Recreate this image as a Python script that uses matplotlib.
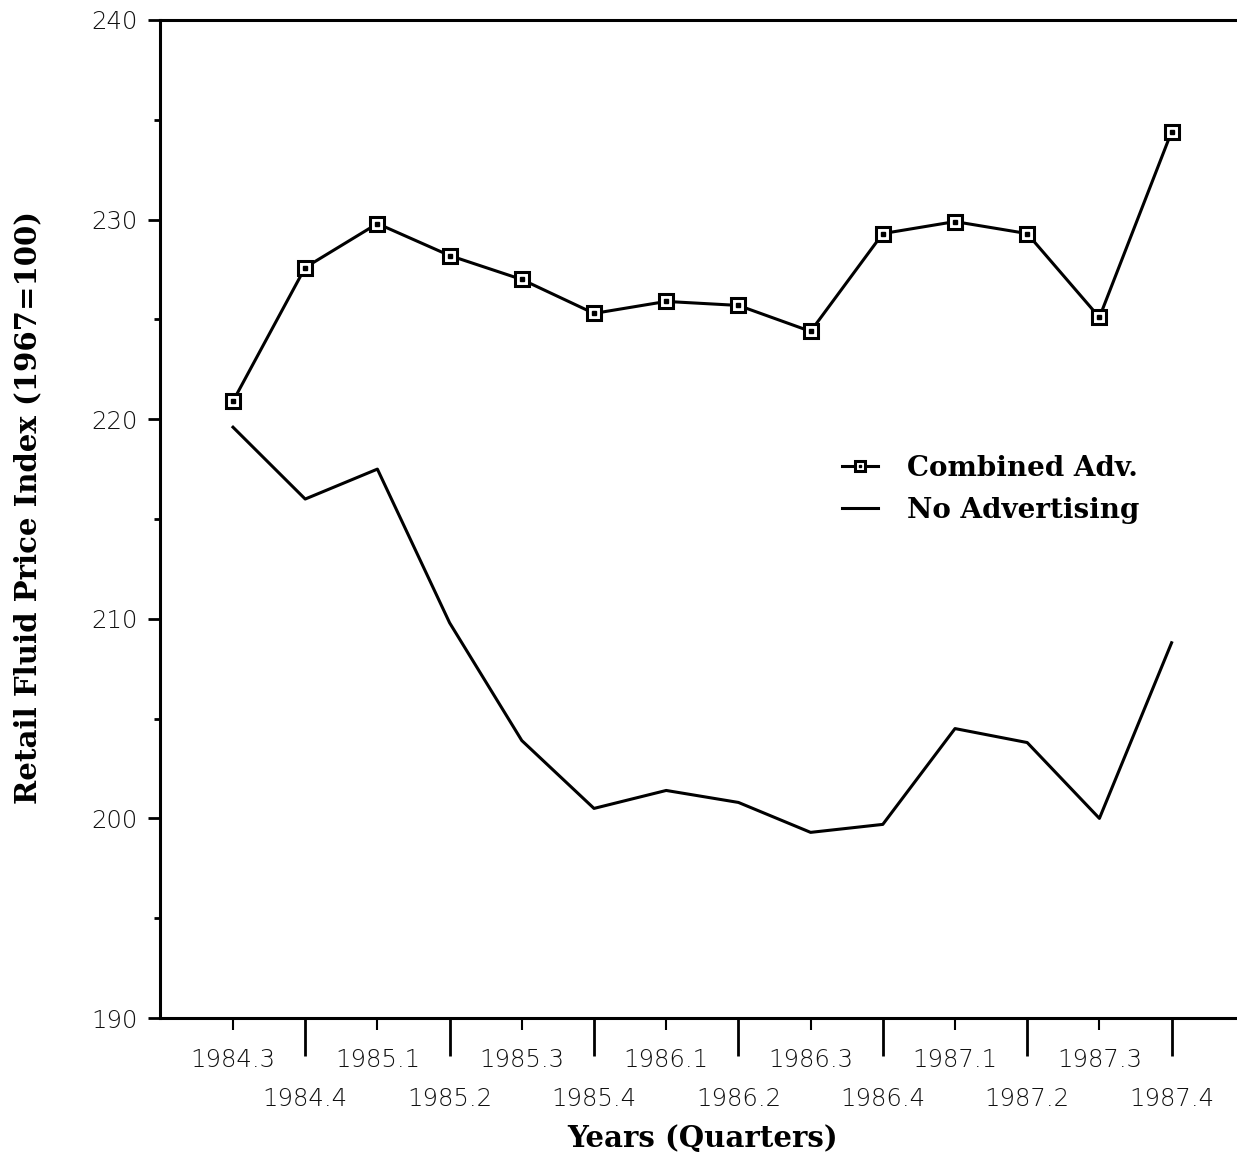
import matplotlib
matplotlib.use("Agg")
import matplotlib.pyplot as plt
from matplotlib.legend_handler import HandlerTuple

quarters = ["1984.3", "1984.4", "1985.1", "1985.2", "1985.3", "1985.4", "1986.1",
            "1986.2", "1986.3", "1986.4", "1987.1", "1987.2", "1987.3", "1987.4"]
combined_adv = [220.9, 227.6, 229.8, 228.2, 227.0, 225.3, 225.9,
                225.7, 224.4, 229.3, 229.9, 229.3, 225.1, 234.4]
no_advertising = [219.6, 216.0, 217.5, 209.8, 203.9, 200.5, 201.4,
                  200.8, 199.3, 199.7, 204.5, 203.8, 200.0, 208.8]
y_major = [190, 200, 210, 220, 230, 240]
y_minor = [195, 205, 215, 225, 235]

fig = plt.figure(figsize=(12.37, 11.6), dpi=100)
ax = fig.add_axes([160/1237, 1 - 1018/1160, 1 - 160/1237, (1018 - 20)/1160])

x = list(range(len(quarters)))
l1, = ax.plot(x, combined_adv, color="black", lw=2.2, marker="s", markersize=10,
              markerfacecolor="white", markeredgecolor="black", markeredgewidth=2.2,
              label="Combined Adv.", zorder=3)
dots, = ax.plot(x, combined_adv, ls="none", marker="s", markersize=2.2,
                color="black", zorder=4)
l2, = ax.plot(x, no_advertising, color="black", lw=2.2, label="No Advertising", zorder=3)

ax.set_xlim(-73/72.2, (1237 - 233)/72.2)
ax.set_ylim(190, 240)

for s in ["left", "bottom", "top"]:
    ax.spines[s].set_linewidth(2.2)
ax.spines["right"].set_visible(False)

tick_font = {"family": "DejaVu Sans", "size": 17.5, "weight": "light", "color": "#111111"}
ax.set_yticks(y_major)
ax.set_yticklabels([str(v) for v in y_major], fontdict=tick_font)
ax.set_yticks(y_minor, minor=True)
ax.tick_params(axis="y", which="major", direction="out", length=9, width=2, pad=7)
ax.tick_params(axis="y", which="minor", direction="out", length=4.5, width=2)

ax.set_xticks(x[1::2])
ax.set_xticklabels(quarters[1::2], fontdict=tick_font)
ax.set_xticks(x[0::2], minor=True)
ax.set_xticklabels(quarters[0::2], minor=True, fontdict=tick_font)
ax.tick_params(axis="x", which="major", direction="out", length=27, width=2, pad=23)
ax.tick_params(axis="x", which="minor", direction="out", length=8.5, width=1.5, pad=13)

lab_font = dict(family="DejaVu Serif", weight="bold", size=21)
fig.text(703/1237, 1 - 1138/1160, "Years (Quarters)", ha="center", va="center", **lab_font)
fig.text(28/1237, 1 - 508/1160, "Retail Fluid Price Index (1967=100)", ha="center",
         va="center", rotation=90, **lab_font)

leg = ax.legend([(l1, dots), l2], ["Combined Adv.", "No Advertising"],
                handler_map={tuple: HandlerTuple(ndivide=1, pad=0)},
                loc="upper left", bbox_to_anchor=(828/1237, 1 - 441/1160),
                bbox_transform=fig.transFigure, frameon=False, borderpad=0,
                handlelength=1.3, handletextpad=1.05, labelspacing=0.55,
                prop=dict(family="DejaVu Serif", weight="bold", size=20),
                markerscale=0.75)

fig.savefig("out.png", dpi=100)
